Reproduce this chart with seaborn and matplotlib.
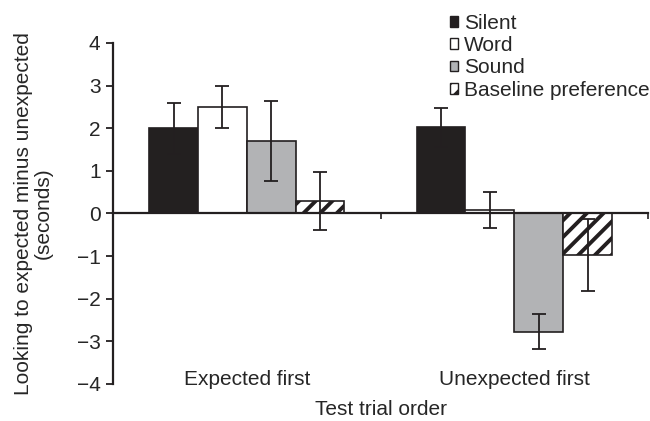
import pandas as pd
import numpy as np
import seaborn as sns
import matplotlib.pyplot as plt
from matplotlib.patches import Patch

# values
orders = ['Expected first', 'Unexpected first']
conditions = ['Silent', 'Word', 'Sound', 'Baseline preference']
means = {
    'Silent': [2.0, 2.02],
    'Word': [2.5, 0.08],
    'Sound': [1.7, -2.77],
    'Baseline preference': [0.3, -0.98],
}
errors = {
    'Silent': [0.6, 0.45],
    'Word': [0.5, 0.42],
    'Sound': [0.93, 0.42],
    'Baseline preference': [0.68, 0.84],
}
yticks = [-4, -3, -2, -1, 0, 1, 2, 3, 4]

face_colors = {'Silent': '#231f20', 'Word': '#ffffff', 'Sound': '#b1b3b6',
               'Baseline preference': '#ffffff'}

rows = []
for cond in conditions:
    for i, order in enumerate(orders):
        rows.append({'order': order, 'condition': cond,
                     'value': means[cond][i], 'err': errors[cond][i]})
df = pd.DataFrame(rows)

sns.set_style('ticks')
plt.rcParams['font.family'] = ['Liberation Sans', 'DejaVu Sans']
plt.rcParams['hatch.linewidth'] = 2.8
FS = 15

fig = plt.figure(figsize=(6.5, 4.21), dpi=100)
ax = fig.add_axes([0.174, 0.088, 0.823, 0.81])

sns.barplot(data=df, x='order', y='value', hue='condition', hue_order=conditions,
            order=orders, palette=face_colors, errorbar=None, width=0.73,
            edgecolor='#231f20', linewidth=1.2, legend=False, ax=ax)

# hatch + error bars, per bar
for j, cond in enumerate(conditions):
    cont = ax.containers[j]
    for i, bar in enumerate(cont):
        if cond == 'Baseline preference':
            bar.set_hatch('//')
        cx = bar.get_x() + bar.get_width() / 2
        ax.errorbar(cx, means[cond][i], yerr=errors[cond][i], fmt='none',
                    ecolor='#231f20', elinewidth=1.3, capsize=5, capthick=1.3,
                    zorder=5)

ax.set_xlim(-0.5, 1.5)
ax.set_ylim(-4, 4)
ax.set_yticks(yticks)
ax.set_yticklabels([str(t).replace('-', '\u2212') for t in yticks], fontsize=FS)
ax.tick_params(axis='y', length=5, width=1.3, color='#231f20', pad=4)

# x axis sits on zero, ticks at group boundaries
ax.spines['bottom'].set_position(('data', 0))
ax.spines['top'].set_visible(False)
ax.spines['right'].set_visible(False)
for s in ['left', 'bottom']:
    ax.spines[s].set_linewidth(1.6)
    ax.spines[s].set_color('#231f20')
ax.set_xticks([-0.5, 0.5, 1.5])
ax.set_xticklabels([])
ax.tick_params(axis='x', length=4, width=1.2, color='#231f20')
ax.set_xlabel('')

sec = ax.secondary_xaxis('bottom')
sec.set_xticks([0, 1])
sec.set_xticklabels(orders, fontsize=FS)
sec.tick_params(length=0, pad=-10)
sec.spines['bottom'].set_visible(False)
sec.set_xlabel('Test trial order', fontsize=FS, labelpad=8)

ax.set_ylabel('Looking to expected minus unexpected\n(seconds)', fontsize=FS,
              linespacing=1.1, labelpad=17)

handles = [Patch(facecolor=face_colors[c], edgecolor='#231f20', linewidth=1.0,
                 hatch='//' if c == 'Baseline preference' else None)
           for c in conditions]
leg = fig.legend(handles, conditions, loc='upper left',
                 bbox_to_anchor=(0.682, 0.982), frameon=False, fontsize=FS,
                 handlelength=0.4, handleheight=0.4, handletextpad=0.3,
                 labelspacing=0.16, borderpad=0.3, borderaxespad=0.0)

fig.savefig('out.png', dpi=100)
